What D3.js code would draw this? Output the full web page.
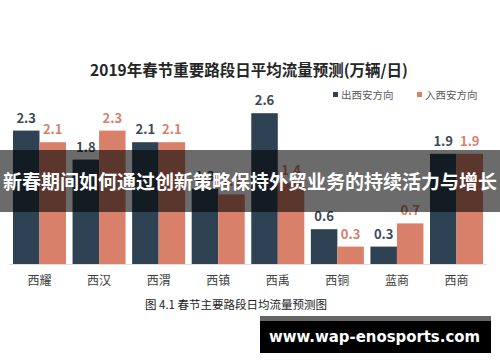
<!DOCTYPE html>
<html>
<head>
<meta charset="utf-8">
<script src="https://cdn.jsdelivr.net/npm/d3@7"></script>
<style>
  body { margin: 0; background: #fff; }
  svg { display: block; font-family: "Noto Sans CJK SC", "Noto Sans", sans-serif; }
</style>
</head>
<body>
<div id="chart"></div>
<script>
const categories = ["西耀", "西汉", "西渭", "西镇", "西禹", "西铜", "蓝商", "西商"];
const outbound = [2.3, 1.8, 2.1, 1.3, 2.6, 0.6, 0.3, 1.9];
const inbound = [2.1, 2.3, 2.1, 1.2, 1.4, 0.3, 0.7, 1.9];
const seriesNames = ["出西安方向", "入西安方向"];
const colors = ["#2e4253", "#d9806a"];

const W = 500, H = 362;
const baseY = 264;

const svg = d3.select("#chart").append("svg")
    .attr("width", W)
    .attr("height", H);

const x = d3.scaleBand()
    .domain(categories)
    .range([9.7, 486.3])
    .paddingInner(0.11)
    .paddingOuter(0.055);

const xSub = d3.scaleBand()
    .domain([0, 1])
    .range([0, x.bandwidth()]);

const y = d3.scaleLinear()
    .domain([0, 3])
    .range([baseY, baseY - 174]);

// title
svg.append("text")
    .attr("x", 249)
    .attr("y", 76)
    .attr("text-anchor", "middle")
    .style("font-size", "15.5px")
    .style("font-weight", "bold")
    .attr("fill", "#262626")
    .text("2019年春节重要路段日平均流量预测(万辆/日)");

// legend
const legendX = [333, 417];
seriesNames.forEach((name, i) => {
    svg.append("rect")
        .attr("x", legendX[i])
        .attr("y", 92)
        .attr("width", 5)
        .attr("height", 5)
        .attr("fill", colors[i]);
    svg.append("text")
        .attr("x", legendX[i] + 8)
        .attr("y", 98.5)
        .style("font-size", "10.5px")
        .attr("fill", "#595959")
        .text(name);
});

// bars
const data = categories.map((c, i) => ({cat: c, vals: [outbound[i], inbound[i]]}));

const groups = svg.append("g").selectAll("g")
    .data(data)
    .join("g")
    .attr("transform", d => `translate(${x(d.cat)},0)`);

groups.selectAll("rect")
    .data(d => d.vals.map((v, k) => ({v, k})))
    .join("rect")
    .attr("x", d => xSub(d.k))
    .attr("y", d => y(d.v))
    .attr("width", xSub.bandwidth())
    .attr("height", d => baseY - y(d.v))
    .attr("fill", d => colors[d.k]);

groups.selectAll("text.val")
    .data(d => d.vals.map((v, k) => ({v, k})))
    .join("text")
    .attr("class", "val")
    .attr("x", d => xSub(d.k) + xSub.bandwidth() / 2)
    .attr("y", d => y(d.v) - 8)
    .attr("text-anchor", "middle")
    .style("font-size", "13px")
    .style("font-weight", "bold")
    .attr("fill", d => d.k === 0 ? "#3b4a56" : "#d9806a")
    .text(d => d.v.toFixed(1));

// baseline + category labels
svg.append("line")
    .attr("x1", 9).attr("x2", 487)
    .attr("y1", baseY + 0.5).attr("y2", baseY + 0.5)
    .attr("stroke", "#e0e0e0");

const xAxis = d3.axisBottom(x).tickSize(0).tickPadding(0);
const axisG = svg.append("g")
    .attr("transform", `translate(0,${baseY})`)
    .call(xAxis);
axisG.select(".domain").remove();
axisG.selectAll("text")
    .attr("y", 17)
    .attr("dy", "0.35em")
    .style("font-size", "12px")
    .style("font-family", "'Noto Sans CJK SC', sans-serif")
    .attr("fill", "#404040");

// caption
svg.append("text")
    .attr("x", 236)
    .attr("y", 309)
    .attr("text-anchor", "middle")
    .style("font-size", "11.5px")
    .attr("fill", "#222")
    .text("图 4.1 春节主要路段日均流量预测图");

// overlay headline band
svg.append("rect")
    .attr("x", 0).attr("y", 150)
    .attr("width", W).attr("height", 62)
    .attr("fill", "#000")
    .attr("opacity", 0.58);

svg.append("text")
    .attr("x", 250)
    .attr("y", 189)
    .attr("text-anchor", "middle")
    .attr("textLength", 494)
    .attr("lengthAdjust", "spacingAndGlyphs")
    .style("font-size", "19px")
    .style("font-weight", "bold")
    .attr("fill", "#fff")
    .text("新春期间如何通过创新策略保持外贸业务的持续活力与增长");

// watermark
svg.append("rect")
    .attr("x", 260).attr("y", 316)
    .attr("width", 231).attr("height", 5)
    .attr("fill", "#666");
svg.append("rect")
    .attr("x", 260).attr("y", 321)
    .attr("width", 231).attr("height", 32)
    .attr("fill", "#000");
svg.append("text")
    .attr("x", 269)
    .attr("y", 342)
    .attr("textLength", 211)
    .attr("lengthAdjust", "spacingAndGlyphs")
    .style("font-family", "'DejaVu Sans', sans-serif")
    .style("font-size", "15px")
    .style("font-weight", "bold")
    .attr("fill", "#fff")
    .text("www.wap-enosports.com");
</script>
</body>
</html>
